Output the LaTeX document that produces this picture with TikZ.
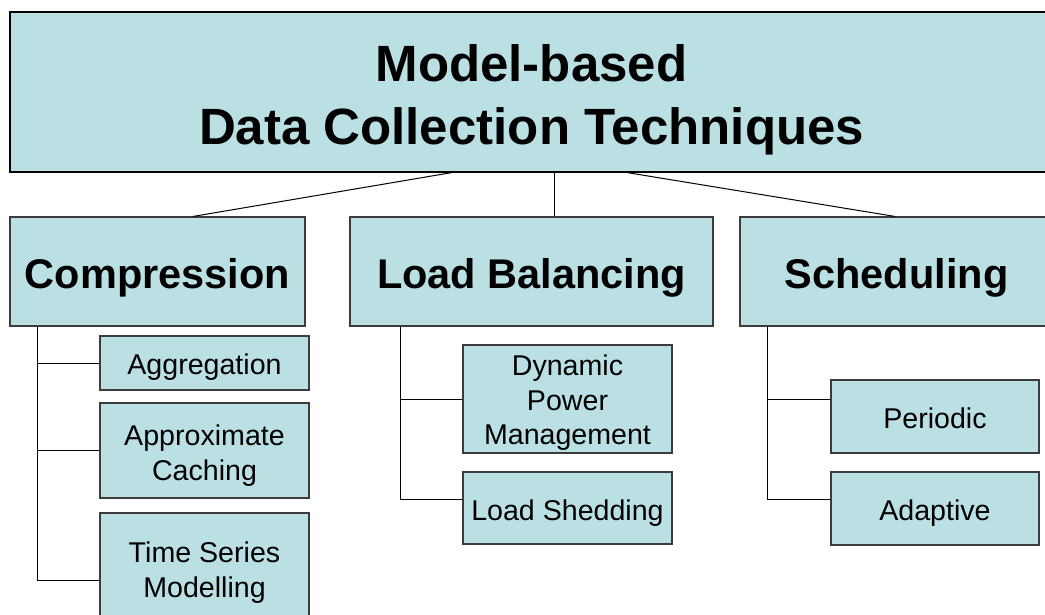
\documentclass[tikz,border=0pt]{standalone}
\usepackage{fontspec}
\setmainfont{Liberation Sans}
\definecolor{boxfill}{RGB}{187,224,227}
\definecolor{boxline}{RGB}{60,60,60}
\tikzset{
  box/.style={draw=boxline, fill=boxfill, line width=1.1pt, inner sep=0pt},
  titlebox/.style={box, draw=black},
  titletext/.style={align=center, inner sep=0pt, font=\fontsize{51}{63}\selectfont\bfseries},
  headtext/.style={align=center, inner sep=0pt, font=\fontsize{41.5}{50}\selectfont\bfseries},
  leaftext/.style={align=center, inner sep=0pt, font=\fontsize{28.6}{34.5}\selectfont},
  link/.style={draw=black, line width=1pt},
}
\begin{document}
\begin{tikzpicture}[x=1pt, y=-1pt]
\clip (0,0) rectangle (1045,614);
\fill[white] (0,0) rectangle (1045,614);

% root
\node[titlebox, minimum width=1043, minimum height=160] (root) at (531.5,92) {};
\node[titletext, yshift=-8pt] at (root) {Model-based\\Data Collection Techniques};

% categories
\node[box, minimum width=295, minimum height=109] (comp)  at (157.5,271.5) {};
\node[box, minimum width=363, minimum height=109] (lb)    at (531.5,271.5) {};
\node[box, minimum width=313, minimum height=109] (sched) at (896.5,271.5) {};
\node[headtext, yshift=-6pt] at (comp)  {Compression};
\node[headtext, yshift=-6pt] at (lb)    {Load Balancing};
\node[headtext, yshift=-6pt] at (sched) {Scheduling};

% compression techniques
\node[box, minimum width=209, minimum height=54]  (agg)    at (204.5,363)   {};
\node[box, minimum width=209, minimum height=95]  (approx) at (204.5,450.5) {};
\node[box, minimum width=209, minimum height=117] (tsm)    at (204.5,571.5) {};
\node[leaftext, yshift=-4pt] at (agg)    {Aggregation};
\node[leaftext, yshift=-5pt] at (approx) {Approximate\\Caching};
\node[leaftext, yshift=-1pt] at (tsm)    {Time Series\\Modelling};

% load balancing techniques
\node[box, minimum width=209, minimum height=108] (dpm) at (567.5,399) {};
\node[box, minimum width=209, minimum height=72]  (ls)  at (567.5,508) {};
\node[leaftext, yshift=-4pt] at (dpm) {Dynamic\\Power\\Management};
\node[leaftext, yshift=-5pt] at (ls)  {Load Shedding};

% scheduling techniques
\node[box, minimum width=208, minimum height=73] (per) at (935,416.5) {};
\node[box, minimum width=208, minimum height=73] (ada) at (935,508.5) {};
\node[leaftext, yshift=-2pt] at (per) {Periodic};
\node[leaftext, yshift=-5pt] at (ada) {Adaptive};

% root to categories
\draw[link] ([xshift=-79.5pt]root.south) -- ([xshift=35.5pt]comp.north);
\draw[link] ([xshift=22.5pt]root.south)  -- ([xshift=22.5pt]lb.north);
\draw[link] ([xshift=95.5pt]root.south)  -- ([xshift=-1.5pt]sched.north);

% compression trunk
\coordinate (ct) at ([xshift=-120.5pt]comp.south);
\draw[link] (ct) |- ([yshift=-8.5pt]tsm.west);
\draw[link] (ct |- agg.west) -- (agg.west);
\draw[link] (ct |- approx.west) -- (approx.west);

% load balancing trunk
\coordinate (lt) at ([xshift=-131.5pt]lb.south);
\draw[link] (lt) |- ([yshift=9pt]ls.west);
\draw[link] (lt |- dpm.west) -- (dpm.west);

% scheduling trunk
\coordinate (st) at ([xshift=-129.5pt]sched.south);
\draw[link] (st) |- ([yshift=9.5pt]ada.west);
\draw[link] (st |- 0,399) -- (per.west |- 0,399);
\end{tikzpicture}
\end{document}
